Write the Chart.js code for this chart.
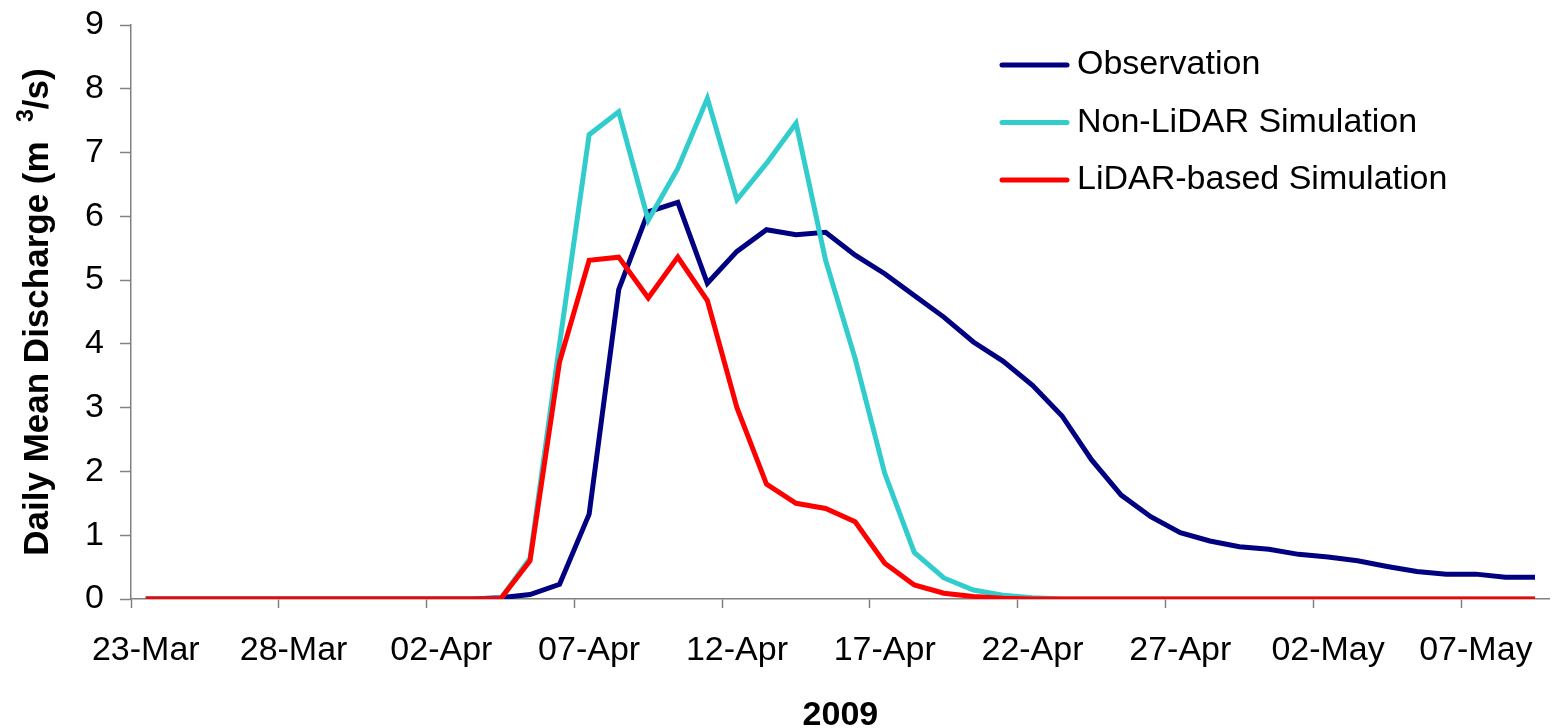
<!DOCTYPE html>
<html>
<head>
<meta charset="utf-8">
<title>Daily Mean Discharge 2009</title>
<script src="https://cdn.jsdelivr.net/npm/chart.js@4/dist/chart.umd.min.js"></script>
<style>
  html, body { margin: 0; padding: 0; background: #ffffff; }
  #wrap { width: 1557px; height: 728px; }
</style>
</head>
<body>
<div id="wrap"><canvas id="chart" width="1557" height="728"></canvas></div>
<script>
// Daily categories, 23 March to 9 May 2009
const days = [
  '23-Mar','24-Mar','25-Mar','26-Mar','27-Mar','28-Mar','29-Mar','30-Mar','31-Mar',
  '01-Apr','02-Apr','03-Apr','04-Apr','05-Apr','06-Apr','07-Apr','08-Apr','09-Apr','10-Apr',
  '11-Apr','12-Apr','13-Apr','14-Apr','15-Apr','16-Apr','17-Apr','18-Apr','19-Apr','20-Apr',
  '21-Apr','22-Apr','23-Apr','24-Apr','25-Apr','26-Apr','27-Apr','28-Apr','29-Apr','30-Apr',
  '01-May','02-May','03-May','04-May','05-May','06-May','07-May','08-May','09-May'
];

// Daily mean discharge (m3/s)
const observation = [
  0,0,0,0,0,0,0,0,0,0,0,0,
  0.02,0.07,0.23,1.33,4.85,6.07,6.22,4.95,5.45,5.79,5.71,5.75,
  5.39,5.10,4.76,4.42,4.03,3.73,3.35,2.87,2.18,1.63,1.29,1.04,
  0.91,0.82,0.78,0.70,0.66,0.60,0.51,0.43,0.39,0.39,0.34,0.34
];
const nonLidar = [
  0,0,0,0,0,0,0,0,0,0,0,0,
  0,0.64,4.0,7.28,7.64,5.94,6.75,7.85,6.26,6.83,7.46,5.31,
  3.77,1.97,0.73,0.33,0.14,0.06,0.02,0,0,0,0,0,
  0,0,0,0,0,0,0,0,0,0,0,0
];
const lidar = [
  0,0,0,0,0,0,0,0,0,0,0,0,
  0,0.60,3.72,5.31,5.36,4.72,5.36,4.68,3.00,1.80,1.50,1.42,
  1.21,0.56,0.22,0.09,0.04,0.01,0,0,0,0,0,0,
  0,0,0,0,0,0,0,0,0,0,0,0
];

const yTicks = [0,1,2,3,4,5,6,7,8,9];
const labelEvery = 5;

const FONT = '"Liberation Sans", Arial, sans-serif';
const AXIS_GREY = '#808080';

// Rotated y-axis title with a superscript exponent
const yTitlePlugin = {
  id: 'yTitle',
  afterDraw(chart) {
    const { ctx, chartArea } = chart;
    const big = 'bold 35px ' + FONT;
    const small = 'bold 23px ' + FONT;
    const parts = [
      { t: 'Daily Mean Discharge (m  ', f: big, dy: 0 },
      { t: '3', f: small, dy: -15 },
      { t: '/s)', f: big, dy: 0 }
    ];
    ctx.save();
    let total = 0;
    parts.forEach(p => { ctx.font = p.f; p.w = ctx.measureText(p.t).width; total += p.w; });
    const cy = (chartArea.top + chartArea.bottom) / 2;
    ctx.translate(48, cy);
    ctx.rotate(-Math.PI / 2);
    ctx.fillStyle = '#000000';
    ctx.textBaseline = 'alphabetic';
    ctx.textAlign = 'left';
    let x = -total / 2;
    parts.forEach(p => { ctx.font = p.f; ctx.fillText(p.t, x, p.dy); x += p.w; });
    ctx.restore();
  }
};

// x-axis title
const xTitlePlugin = {
  id: 'xTitle',
  afterDraw(chart) {
    const { ctx, chartArea } = chart;
    ctx.save();
    ctx.font = 'bold 34px ' + FONT;
    ctx.fillStyle = '#000000';
    ctx.textAlign = 'center';
    ctx.textBaseline = 'alphabetic';
    ctx.fillText('2009', (chartArea.left + chartArea.right) / 2, 725);
    ctx.restore();
  }
};

// Legend box in the upper right of the plot
const legendPlugin = {
  id: 'sideLegend',
  afterDraw(chart) {
    const { ctx } = chart;
    ctx.save();
    ctx.font = '34px ' + FONT;
    ctx.textBaseline = 'middle';
    ctx.textAlign = 'left';
    chart.data.datasets.forEach((ds, i) => {
      const y = 65 + i * 57.5;
      ctx.strokeStyle = ds.borderColor;
      ctx.lineWidth = 5;
      ctx.lineCap = 'round';
      ctx.beginPath();
      ctx.moveTo(1002, y);
      ctx.lineTo(1067, y);
      ctx.stroke();
      ctx.fillStyle = '#000000';
      ctx.fillText(ds.label, 1077, y);
    });
    ctx.restore();
  }
};

new Chart(document.getElementById('chart'), {
  type: 'line',
  data: {
    labels: days,
    datasets: [
      { label: 'Observation', data: observation, borderColor: '#000080', order: 2 },
      { label: 'Non-LiDAR Simulation', data: nonLidar, borderColor: '#33CCCC', order: 1 },
      { label: 'LiDAR-based Simulation', data: lidar, borderColor: '#FF0000', order: 0 }
    ]
  },
  options: {
    responsive: false,
    animation: false,
    devicePixelRatio: 1,
    layout: { padding: { top: 25, right: 1, left: 0, bottom: 0 } },
    elements: {
      line: { borderWidth: 5, tension: 0, fill: false },
      point: { radius: 0, hoverRadius: 0 }
    },
    plugins: {
      legend: { display: false },
      tooltip: { enabled: false },
      title: { display: false }
    },
    scales: {
      x: {
        type: 'category',
        offset: true,
        afterFit(scale) { scale.height = 129; },
        border: { display: true, color: AXIS_GREY, width: 1.5 },
        grid: {
          offset: true,
          drawOnChartArea: false,
          drawTicks: true,
          tickLength: 9,
          tickWidth: 1.5,
          color: c => (c.index % labelEvery === 0 && c.index < days.length) ? AXIS_GREY : 'rgba(0,0,0,0)'
        },
        ticks: {
          autoSkip: false,
          maxRotation: 0,
          minRotation: 0,
          padding: 22,
          color: '#000000',
          font: { family: FONT, size: 34 },
          callback(value, index) { return index % labelEvery === 0 ? this.getLabelForValue(value) : ''; }
        }
      },
      y: {
        min: yTicks[0],
        max: yTicks[yTicks.length - 1],
        afterFit(scale) { scale.width = 131; },
        afterBuildTicks(scale) { scale.ticks = yTicks.map(v => ({ value: v })); },
        border: { display: true, color: AXIS_GREY, width: 1.5 },
        grid: {
          drawOnChartArea: false,
          drawTicks: true,
          tickLength: 11,
          tickWidth: 1.5,
          color: AXIS_GREY
        },
        ticks: {
          padding: 16,
          color: '#000000',
          font: { family: FONT, size: 34, lineHeight: 0.25 }
        }
      }
    }
  },
  plugins: [yTitlePlugin, xTitlePlugin, legendPlugin]
});
</script>
</body>
</html>
